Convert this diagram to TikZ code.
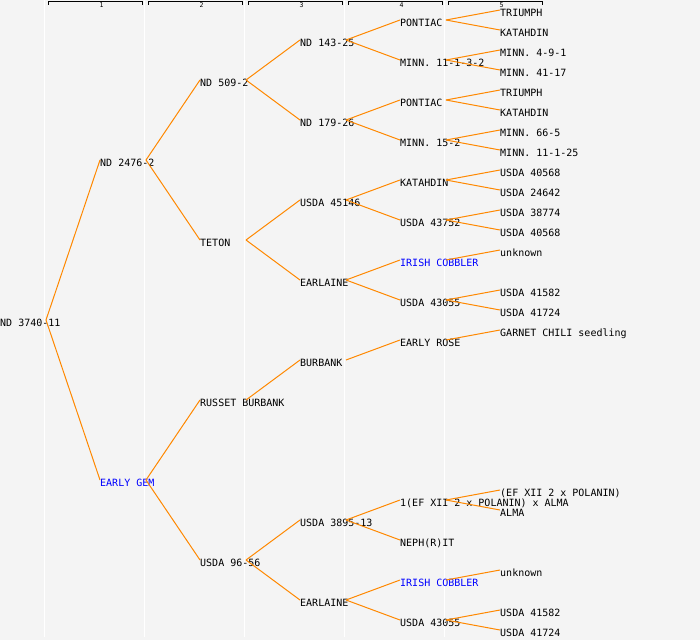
\documentclass[tikz,border=0pt]{standalone}
\usepackage{fontspec}
\newfontfamily\pedfont{DejaVu Sans Mono}
\definecolor{pedbg}{RGB}{244,244,244}
\definecolor{pedline}{RGB}{255,136,0}
\def\link(#1)(#2){\draw[lineage] ([shift={(46,-6)}]#1.base west) -- ([shift={(0,-6)}]#2.base west);}
\tikzset{
	plant/.style={anchor=base west, inner sep=0pt, font=\pedfont\fontsize{10}{12}\selectfont},
	wild/.style={plant, text=blue},
	lineage/.style={draw=pedline, line width=1pt},
	gen/.style={inner sep=0pt, font=\pedfont\fontsize{6.5}{7}\selectfont},
}

\begin{document}
\begin{tikzpicture}[x=1pt, y=-1pt]
			%%%%% START %%%%%
			
			\fill[pedbg] (0, 0) rectangle (700, 640);
			\useasboundingbox (0, 0) rectangle (700, 640);
			
			\draw[white, line width=1pt] (44.5, 0) -- (44.5, 637);
			\draw[white, line width=1pt] (144.5, 0) -- (144.5, 637);
			\draw[white, line width=1pt] (244.5, 0) -- (244.5, 637);
			\draw[white, line width=1pt] (344.5, 0) -- (344.5, 637);
			\draw[white, line width=1pt] (444.5, 0) -- (444.5, 637);
			
			\draw[line width=1pt] (48, 4.5) -- (48, 1.5) -- (142.5, 1.5) -- (142.5, 4.5);
			\draw[line width=1pt] (148, 4.5) -- (148, 1.5) -- (242.5, 1.5) -- (242.5, 4.5);
			\draw[line width=1pt] (248, 4.5) -- (248, 1.5) -- (342.5, 1.5) -- (342.5, 4.5);
			\draw[line width=1pt] (348, 4.5) -- (348, 1.5) -- (442.5, 1.5) -- (442.5, 4.5);
			\draw[line width=1pt] (448, 4.5) -- (448, 1.5) -- (542.5, 1.5) -- (542.5, 4.5);
			\node[gen] (h1) at (101.5, 5) {1};
			\node[gen] (h2) at (201.5, 5) {2};
			\node[gen] (h3) at (301.5, 5) {3};
			\node[gen] (h4) at (401.5, 5) {4};
			\node[gen] (h5) at (501.5, 5) {5};
			
			\node[plant] (n) at (0, 326) {ND 3740-11};
			
			\node[plant] (n1) at (100, 166) {ND 2476-2};
			\node[wild] (n2) at (100, 486) {EARLY GEM};
			
			\node[plant] (n11) at (200, 86) {ND 509-2};
			\node[plant] (n12) at (200, 246) {TETON};
			\node[plant] (n21) at (200, 406) {RUSSET BURBANK};
			\node[plant] (n22) at (200, 566) {USDA 96-56};
			
			\node[plant] (n111) at (300, 46) {ND 143-25};
			\node[plant] (n112) at (300, 126) {ND 179-26};
			\node[plant] (n121) at (300, 206) {USDA 45146};
			\node[plant] (n122) at (300, 286) {EARLAINE};
			\node[plant] (n211) at (300, 366) {BURBANK};
			\node[plant] (n221) at (300, 526) {USDA 3895-13};
			\node[plant] (n222) at (300, 606) {EARLAINE};
			
			\node[plant] (n1111) at (400, 26) {PONTIAC};
			\node[plant] (n1112) at (400, 66) {MINN. 11-1-3-2};
			\node[plant] (n1121) at (400, 106) {PONTIAC};
			\node[plant] (n1122) at (400, 146) {MINN. 15-2};
			\node[plant] (n1211) at (400, 186) {KATAHDIN};
			\node[plant] (n1212) at (400, 226) {USDA 43752};
			\node[wild] (n1221) at (400, 266) {IRISH COBBLER};
			\node[plant] (n1222) at (400, 306) {USDA 43055};
			\node[plant] (n2111) at (400, 346) {EARLY ROSE};
			\node[plant] (n2211) at (400, 506) {1(EF XII 2 x POLANIN) x ALMA};
			\node[plant] (n2212) at (400, 546) {NEPH(R)IT};
			\node[wild] (n2221) at (400, 586) {IRISH COBBLER};
			\node[plant] (n2222) at (400, 626) {USDA 43055};
			
			\node[plant] (n11111) at (500, 16) {TRIUMPH};
			\node[plant] (n11112) at (500, 36) {KATAHDIN};
			\node[plant] (n11121) at (500, 56) {MINN. 4-9-1};
			\node[plant] (n11122) at (500, 76) {MINN. 41-17};
			\node[plant] (n11211) at (500, 96) {TRIUMPH};
			\node[plant] (n11212) at (500, 116) {KATAHDIN};
			\node[plant] (n11221) at (500, 136) {MINN. 66-5};
			\node[plant] (n11222) at (500, 156) {MINN. 11-1-25};
			\node[plant] (n12111) at (500, 176) {USDA 40568};
			\node[plant] (n12112) at (500, 196) {USDA 24642};
			\node[plant] (n12121) at (500, 216) {USDA 38774};
			\node[plant] (n12122) at (500, 236) {USDA 40568};
			\node[plant] (n12211) at (500, 256) {unknown};
			\node[plant] (n12221) at (500, 296) {USDA 41582};
			\node[plant] (n12222) at (500, 316) {USDA 41724};
			\node[plant] (n21111) at (500, 336) {GARNET CHILI seedling};
			\node[plant] (n22111) at (500, 496) {(EF XII 2 x POLANIN)};
			\node[plant] (n22112) at (500, 516) {ALMA};
			\node[plant] (n22211) at (500, 576) {unknown};
			\node[plant] (n22221) at (500, 616) {USDA 41582};
			\node[plant] (n22222) at (500, 636) {USDA 41724};
			
			\link(n)(n1) \link(n)(n2)
			\link(n1)(n11) \link(n1)(n12)
			\link(n2)(n21) \link(n2)(n22)
			
			\link(n11)(n111) \link(n11)(n112)
			\link(n12)(n121) \link(n12)(n122)
			\link(n21)(n211)
			\link(n22)(n221) \link(n22)(n222)
			
			\link(n111)(n1111) \link(n111)(n1112)
			\link(n112)(n1121) \link(n112)(n1122)
			\link(n121)(n1211) \link(n121)(n1212)
			\link(n122)(n1221) \link(n122)(n1222)
			\link(n211)(n2111)
			\link(n221)(n2211) \link(n221)(n2212)
			\link(n222)(n2221) \link(n222)(n2222)
			
			\link(n1111)(n11111) \link(n1111)(n11112)
			\link(n1112)(n11121) \link(n1112)(n11122)
			\link(n1121)(n11211) \link(n1121)(n11212)
			\link(n1122)(n11221) \link(n1122)(n11222)
			\link(n1211)(n12111) \link(n1211)(n12112)
			\link(n1212)(n12121) \link(n1212)(n12122)
			\link(n1221)(n12211)
			\link(n1222)(n12221) \link(n1222)(n12222)
			\link(n2111)(n21111)
			\link(n2211)(n22111) \link(n2211)(n22112)
			\link(n2221)(n22211)
			\link(n2222)(n22221) \link(n2222)(n22222)
			
			%%%%% END %%%%%
\end{tikzpicture}
\end{document}
